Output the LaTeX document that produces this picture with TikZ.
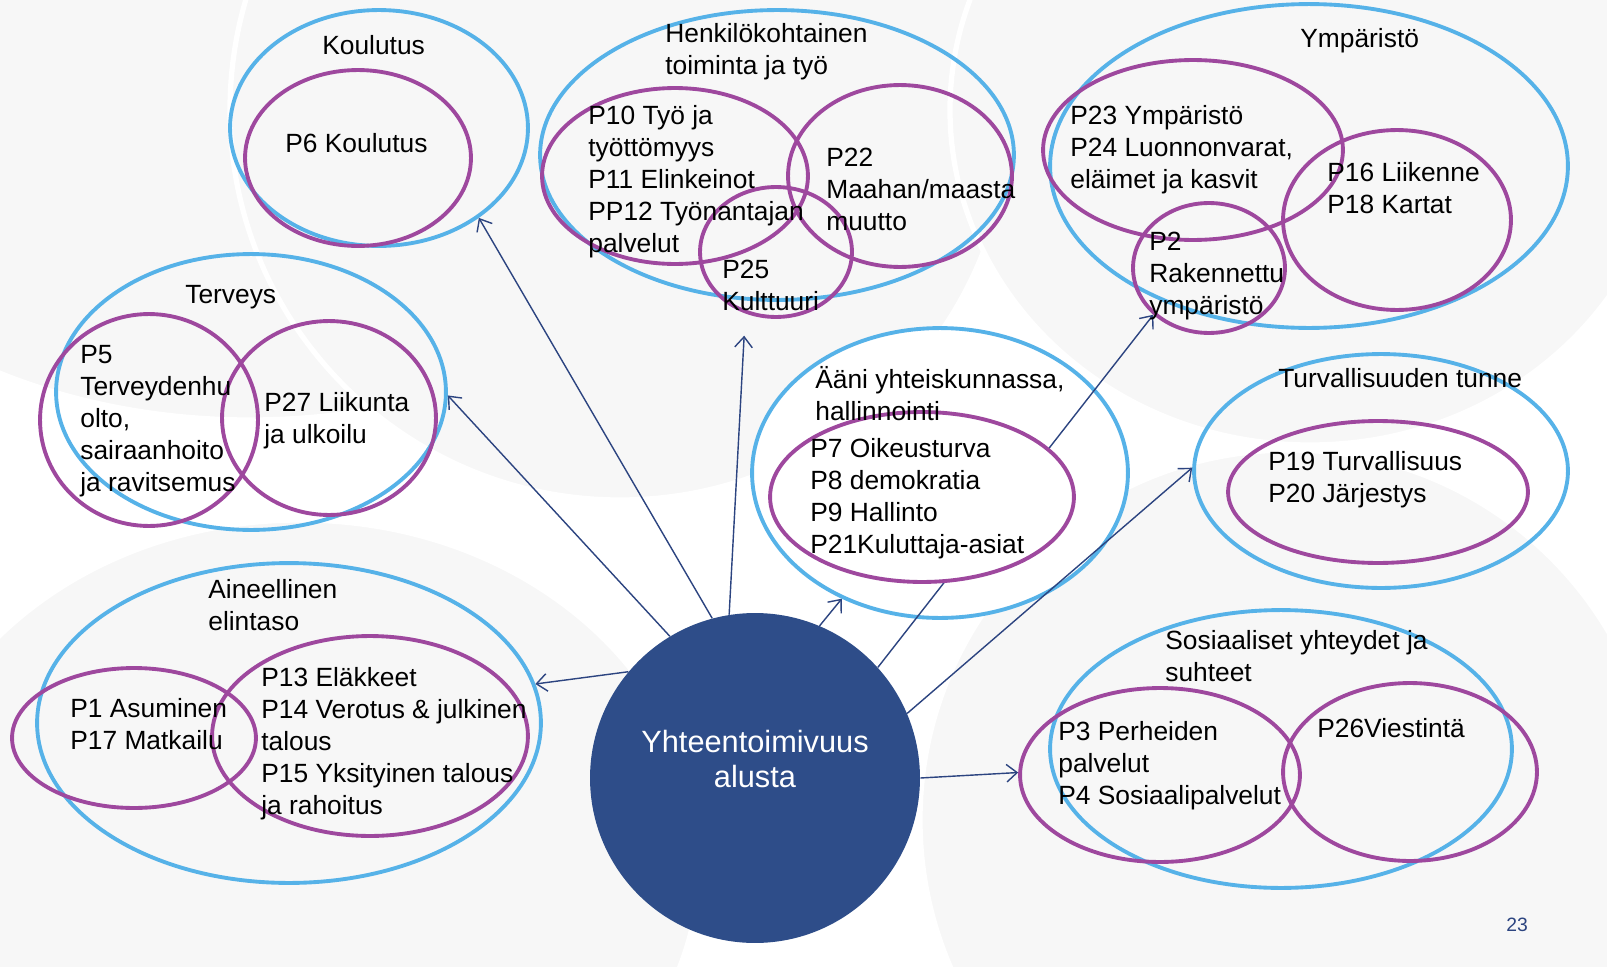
\documentclass[tikz,border=0pt]{standalone}
\usepackage{fontspec}
\setmainfont{Liberation Sans}
\usepackage[]{xcolor}
\usetikzlibrary{shapes.geometric}
\usetikzlibrary{arrows.meta}
\definecolor{lblue}{RGB}{86,178,232}
\definecolor{vio}{RGB}{158,72,158}
\definecolor{navy}{RGB}{44,68,128}
\definecolor{hubblue}{RGB}{46,77,137}
\tikzset{grp/.style 2 args={draw=lblue,line width=2.2pt,ellipse,inner sep=0pt,minimum width=#1*0.04cm,minimum height=#2*0.04cm}}
\tikzset{subset/.style 2 args={grp={#1}{#2},draw=vio}}
\tikzset{txt/.style={anchor=north west,inner sep=0pt,align=left,font=\fontsize{15}{18.2}\selectfont}}
\tikzset{conn/.style={draw=navy,line width=0.8pt,-{Straight Barb[length=6pt,width=10pt]}}}
\tikzset{bubble/.style={fill=gray!6,draw=white,line width=3pt}}
\tikzset{hub/.style={circle,fill=hubblue,minimum size=6.6cm,inner sep=0pt}}

\begin{document}
\begin{tikzpicture}[x=0.02cm,y=-0.02cm] %像素坐标
    \useasboundingbox (0,0) rectangle (1607,967);
    \fill[white] (0,0) rectangle (1607,967);
    \begin{scope}
        \clip (0,0) rectangle (1607,967);
        \draw[bubble] (250,40) ellipse (520 and 380);
        \draw[bubble] (620,110) circle (390);
        \draw[bubble] (1310,110) ellipse (360 and 335);
        \draw[bubble] (300,860) ellipse (400 and 340);
        \draw[bubble] (1290,820) circle (370);
    \end{scope}
    % groups
    \node[grp={149}{118}] (koul) at (379,128) {};
    \node[grp={237}{145}] (henk) at (777,155) {};
    \node[grp={259}{162}] (ymp) at (1309,166) {};
    \node[grp={195}{138}] (terv) at (251,392) {};
    \node[grp={188}{145},fill=white] (aani) at (940,473) {};
    \node[grp={187}{117}] (turv) at (1381,471) {};
    \node[grp={252}{160}] (aine) at (289,723) {};
    \node[grp={231}{139}] (sos) at (1281,749) {};
    \node[subset={113}{88}] (p6) at (358,158) {};
    \node[subset={133}{88}] (p10) at (675,176) {};
    \node[subset={112}{91}] (p22) at (900,176) {};
    \node[subset={76}{65}] (p25) at (776,252) {};
    \node[subset={150}{90}] (p23) at (1193,150) {};
    \node[subset={114}{90}] (p16) at (1397,220) {};
    \node[subset={76}{65}] (p2) at (1209,268) {};
    \node[subset={109}{106}] (p5) at (149,420) {};
    \node[subset={107}{97}] (p27) at (329,418) {};
    \node[subset={150}{71}] (p19) at (1378,492) {};
    \node[subset={122}{70}] (p1) at (134,738) {};
    \node[subset={158}{100}] (p13) at (370,736) {};
    \node[subset={140}{87}] (p3) at (1160,775) {};
    \node[subset={127}{89}] (p26) at (1410,772) {};
    \node[hub] (ctr) at (755,778) {};
    % arrows
    \draw[conn] (ctr.105) -- (koul.-42);
    \draw[conn,shorten >=20pt] (ctr.99) -- (henk.-102);
    \draw[conn] (ctr.121) -- (terv.-1);
    \draw[conn] (ctr.140) -- (aine.9);
    \draw[conn] (ctr.67) -- (aani.-128);
    \draw[conn] (ctr.42) -- (p2.-140);
    \draw[conn] (ctr.23) -- (turv.179);
    \draw[conn] (ctr.0) -- (p3.179);
    \node[subset={152}{85},fill=white] (p7) at (922,497) {};
    % texts
    \node[txt] (lkoul) at (322,35) {Koulutus};
    \node[txt] (t6) at (285,133) {P6 Koulutus};
    \node[txt] (lhenk) at (665,23) {Henkilökohtainen\\toiminta ja työ};
    \node[txt] (t10) at (588,105) {P10 Työ ja\\työttömyys\\P11 Elinkeinot\\PP12 Työnantajan\\palvelut};
    \node[txt] (t22) at (826,148) {P22\\Maahan/maasta\\muutto};
    \node[txt] (t25) at (722,260) {P25\\Kulttuuri};
    \node[txt] (lymp) at (1300,28) {Ympäristö};
    \node[txt] (t23) at (1070,105) {P23 Ympäristö\\P24 Luonnonvarat,\\eläimet ja kasvit};
    \node[txt] (t16) at (1327,162) {P16 Liikenne\\P18 Kartat};
    \node[txt] (t2) at (1149,232) {P2\\Rakennettu\\ympäristö};
    \node[txt] (lterv) at (185,285) {Terveys};
    \node[txt] (t5) at (80,345) {P5\\Terveydenhu\\olto,\\sairaanhoito\\ja ravitsemus};
    \node[txt] (t27) at (264,392) {P27 Liikunta\\ja ulkoilu};
    \node[txt] (laani) at (815,366) {Ääni yhteiskunnassa,\\hallinnointi};
    \node[txt] (t7) at (810,438) {P7 Oikeusturva\\P8 demokratia\\P9 Hallinto\\P21Kuluttaja-asiat};
    \node[txt] (lturv) at (1278,368) {Turvallisuuden tunne};
    \node[txt] (t19) at (1268,451) {P19 Turvallisuus\\P20 Järjestys};
    \node[txt] (laine) at (208,579) {Aineellinen\\elintaso};
    \node[txt] (t1) at (70,698) {P1 Asuminen\\P17 Matkailu};
    \node[txt] (t13) at (261,667) {P13 Eläkkeet\\P14 Verotus \& julkinen\\talous\\P15 Yksityinen talous\\ja rahoitus};
    \node[txt] (lsos) at (1165,630) {Sosiaaliset yhteydet ja\\suhteet};
    \node[txt] (t3) at (1058,721) {P3 Perheiden\\palvelut\\P4 Sosiaalipalvelut};
    \node[txt] (t26) at (1317,718) {P26Viestintä};
    \node[text=white,align=center,font=\fontsize{17.5}{20.4}\selectfont] (lctr) at (755,759) {Yhteentoimivuus\\alusta};
    \node[text=navy,font=\fontsize{11}{13}\selectfont] (pnum) at (1517,925) {23};
\end{tikzpicture}
\end{document}
